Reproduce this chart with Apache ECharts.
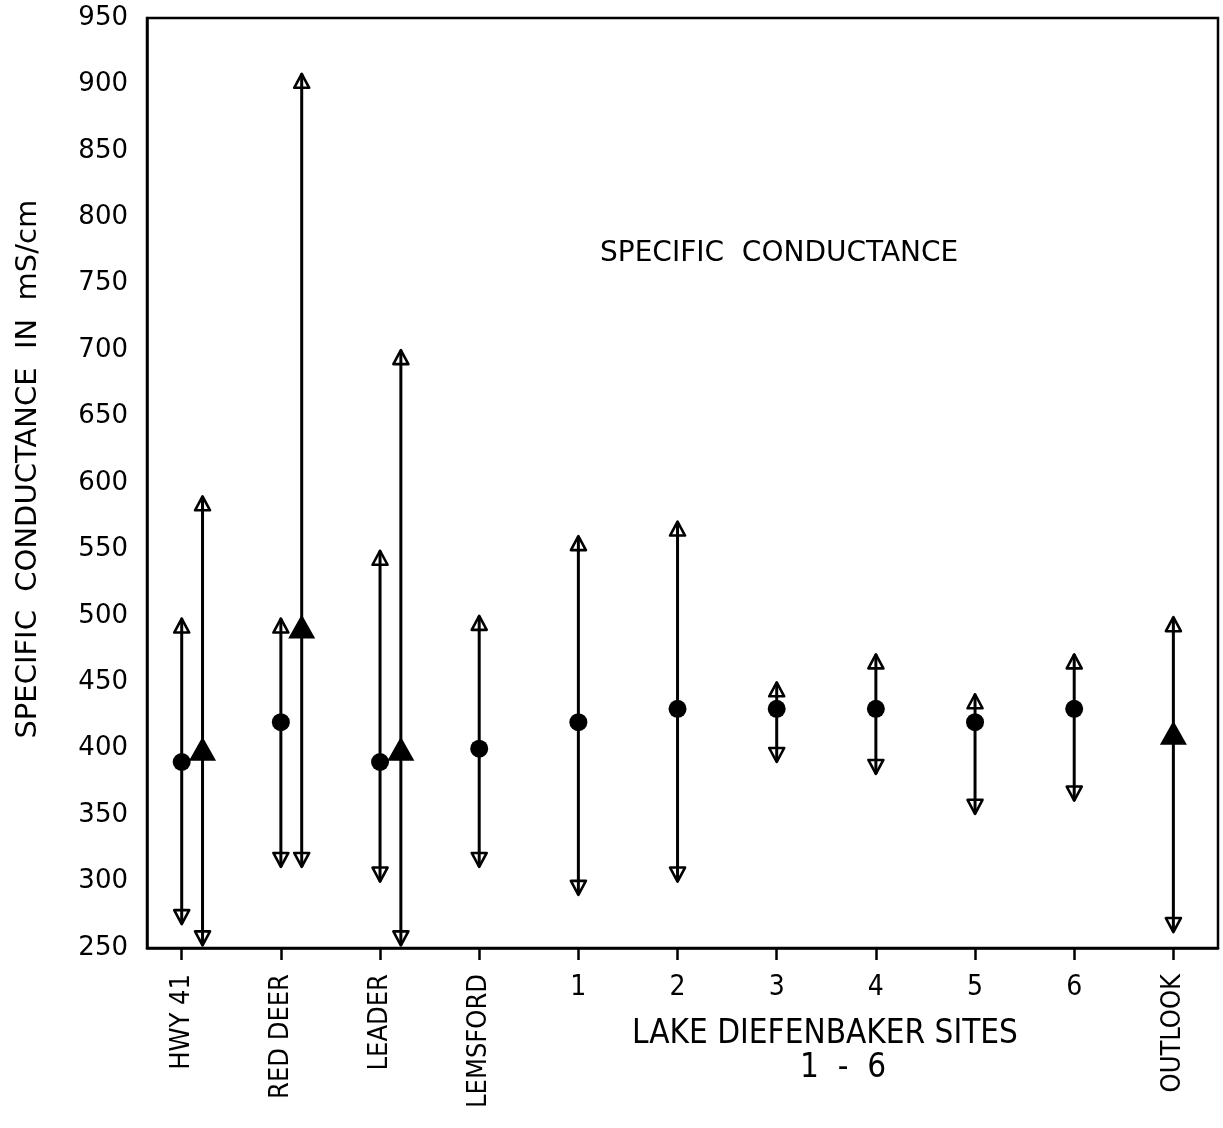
<!DOCTYPE html>
<html>
<head>
<meta charset="utf-8">
<script src="https://cdn.jsdelivr.net/npm/echarts@6/dist/echarts.min.js"></script>
<style>
  html, body { margin: 0; padding: 0; background: #fff; }
  #chart { width: 1223px; height: 1128px; }
</style>
</head>
<body>
<div id="chart"></div>
<script>
// sites along the x axis
const sites = ['HWY 41', 'RED DEER', 'LEADER', 'LEMSFORD', '1', '2', '3', '4', '5', '6', 'OUTLOOK'];

// circle series (site index, mean, max, min)
const circleSite = [0, 1, 2, 3, 4, 5, 6, 7, 8, 9];
const circleMean = [390, 420, 390, 400, 420, 430, 430, 430, 420, 430];
const circleMax  = [498, 498, 549, 500, 560, 571, 450, 471, 441, 471];
const circleMin  = [268, 311, 300, 311, 290, 300, 390, 381, 351, 361];

// triangle series
const triSite = [0, 1, 2, 10];
const triMean = [400, 492, 400, 412];
const triMax  = [590, 908, 700, 499];
const triMin  = [252, 311, 252, 262];

// triangles sharing a site with a circle get pushed right a bit
const shift = 0.21;
const triX = triSite.map(s => circleSite.indexOf(s) >= 0 ? s + shift : s);

const rangeData = [];
circleSite.forEach((s, i) => rangeData.push([s, circleMin[i], circleMax[i]]));
triX.forEach((x, i) => rangeData.push([x, triMin[i], triMax[i]]));

const font = 'DejaVu Sans';
const condensed = '"DejaVu Sans Condensed", "DejaVu Sans"';

function renderRange(params, api) {
  const x = api.value(0);
  const top = api.coord([x, api.value(2)]);
  const bot = api.coord([x, api.value(1)]);
  const w = 7.5, h = 14;
  const st = { stroke: '#000', lineWidth: 2.6, fill: 'none', lineJoin: 'round' };
  return {
    type: 'group',
    children: [
      { type: 'line', shape: { x1: top[0], y1: top[1], x2: bot[0], y2: bot[1] }, style: { stroke: '#000', lineWidth: 3 } },
      { type: 'polygon', shape: { points: [[top[0], top[1]], [top[0] - w, top[1] + h], [top[0] + w, top[1] + h]] }, style: st },
      { type: 'polygon', shape: { points: [[bot[0], bot[1]], [bot[0] - w, bot[1] - h], [bot[0] + w, bot[1] - h]] }, style: st }
    ]
  };
}

const chart = echarts.init(document.getElementById('chart'));
const allIdx = sites.map((s, i) => i);
const nameIdx = [0, 1, 2, 3, 10];
const numIdx = [4, 5, 6, 7, 8, 9];

chart.setOption({
  backgroundColor: '#fff',
  animation: false,
  grid: { left: 147, right: 5, top: 18, bottom: 180, show: true, borderColor: '#000', borderWidth: 2.5, backgroundColor: 'transparent' },
  xAxis: [
    {
      type: 'value', position: 'bottom', min: -0.35, max: 10.45,
      splitLine: { show: false },
      axisLine: { show: true, onZero: false, lineStyle: { color: '#000', width: 2.5 } },
      axisTick: { show: true, customValues: allIdx, length: 12, lineStyle: { color: '#000', width: 2.5 } },
      axisLabel: {
        customValues: nameIdx, rotate: 90, margin: 26,
        formatter: v => sites[Math.round(v)],
        color: '#000', fontFamily: condensed, fontSize: 27
      }
    },
    {
      type: 'value', position: 'bottom', min: -0.35, max: 10.45,
      splitLine: { show: false },
      axisLine: { show: false, onZero: false }, axisTick: { show: false },
      axisLabel: {
        customValues: numIdx, rotate: 0, margin: 26,
        formatter: v => sites[Math.round(v)],
        color: '#000', fontFamily: condensed, fontSize: 28
      }
    }
  ],
  yAxis: {
    type: 'value', min: 250, max: 950, interval: 50,
    name: '   SPECIFIC  CONDUCTANCE  IN  mS/cm', nameLocation: 'middle', nameGap: 104,
    nameTextStyle: { color: '#000', fontFamily: font, fontSize: 29 },
    splitLine: { show: false },
    axisLine: { show: true, onZero: false, lineStyle: { color: '#000', width: 2.5 } },
    axisTick: { show: false },
    axisLabel: { color: '#000', fontFamily: font, fontSize: 26, margin: 19 }
  },
  graphic: [
    { type: 'text', left: 600, top: 240, style: { text: 'SPECIFIC  CONDUCTANCE', fill: '#000', font: '28px "DejaVu Sans"' } },
    { type: 'text', left: 632, top: 1018, style: { text: 'LAKE DIEFENBAKER SITES', fill: '#000', font: '33px "DejaVu Sans Condensed", "DejaVu Sans"' } },
    { type: 'text', left: 800, top: 1052, style: { text: '1  -  6', fill: '#000', font: '33px "DejaVu Sans Condensed", "DejaVu Sans"' } }
  ],
  series: [
    { type: 'custom', xAxisIndex: 0, renderItem: renderRange, data: rangeData, z: 2 },
    {
      type: 'scatter', xAxisIndex: 0, symbol: 'circle', symbolSize: 18,
      itemStyle: { color: '#000', opacity: 1 }, z: 3,
      data: circleSite.map((s, i) => [s, circleMean[i]])
    },
    {
      type: 'scatter', xAxisIndex: 0, symbol: 'triangle', symbolSize: [27, 24],
      itemStyle: { color: '#000', opacity: 1 }, z: 3,
      data: triX.map((x, i) => [x, triMean[i]])
    }
  ]
});
</script>
</body>
</html>
